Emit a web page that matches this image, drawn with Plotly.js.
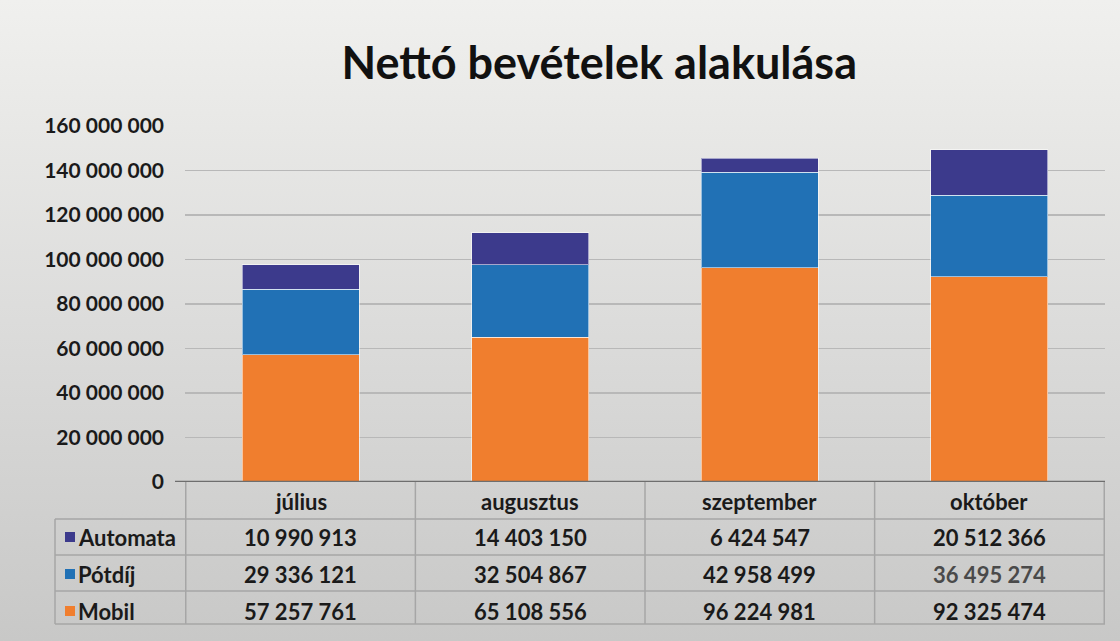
<!DOCTYPE html>
<html>
<head>
<meta charset="utf-8">
<script src="https://cdn.plot.ly/plotly-3.0.1.min.js"></script>
<style>
html,body{margin:0;padding:0;}
body{width:1120px;height:641px;background:linear-gradient(to bottom,#f0f0ee 0%,#e8e8e6 20%,#dcdcdb 50%,#d0d0cf 80%,#c8c8c7 100%);}
#chart{width:1120px;height:641px;}
</style>
</head>
<body>
<div id="chart"></div>
<script>
const categories = ['július', 'augusztus', 'szeptember', 'október'];
const seriesNames = ['Automata', 'Pótdíj', 'Mobil'];
const automata = [10990913, 14403150, 6424547, 20512366];
const potdij = [29336121, 32504867, 42958499, 36495274];
const mobil = [57257761, 65108556, 96224981, 92325474];
const yTickVals = [0, 20000000, 40000000, 60000000, 80000000, 100000000, 120000000, 140000000, 160000000];

const colors = {Automata: '#3c3a8c', 'Pótdíj': '#2171b5', Mobil: '#f07e2e'};
const fmt = n => String(n).replace(/\B(?=(\d{3})+(?!\d))/g, ' ');
const FONT = 'Lato, "Open Sans", sans-serif';

const seriesData = {Automata: automata, 'Pótdíj': potdij, Mobil: mobil};
const stackOrder = ['Mobil', 'Pótdíj', 'Automata'];
const traces = stackOrder.map(name => ({
  type: 'bar', name: name, x: categories, y: seriesData[name],
  marker: {color: colors[name], line: {color: 'rgba(255,255,255,0.55)', width: 1}},
  showlegend: false, hoverinfo: 'x+y+name'
}));

const plotTop = 126, plotBottom = 482, plotH = plotBottom - plotTop;
const py = p => (plotBottom - p) / plotH;
const plotLeft = 185, plotW = 920;
const px = p => (p - plotLeft) / plotW;

const annotations = [];
const shapes = [];
const rowCenters = {header: 501, Automata: 537, 'Pótdíj': 574, Mobil: 611};
const rowLines = [519, 555, 591, 624];
const TS = 22;

categories.forEach((c, i) => {
  annotations.push({xref: 'x', yref: 'paper', x: c, y: py(rowCenters.header), text: c, showarrow: false,
    font: {family: FONT, size: TS, color: '#1a1a1a', weight: 'bold'}, xanchor: 'center', yanchor: 'middle'});
});
seriesNames.forEach(name => {
  seriesData[name].forEach((v, i) => {
    annotations.push({xref: 'x', yref: 'paper', x: categories[i], y: py(rowCenters[name]), text: fmt(v), showarrow: false,
      font: {family: FONT, size: TS, color: (name === 'Pótdíj' && i === 3) ? '#4a4a4a' : '#1a1a1a', weight: 'bold'},
      xanchor: 'center', yanchor: 'middle'});
  });
  annotations.push({xref: 'paper', yref: 'paper', x: px(76), y: py(rowCenters[name]), text: name, showarrow: false,
    font: {family: FONT, size: TS, color: '#1a1a1a', weight: 'bold'}, xanchor: 'left', yanchor: 'middle'});
  shapes.push({type: 'rect', xref: 'paper', yref: 'paper', x0: px(65), x1: px(75),
    y0: py(rowCenters[name] + 5), y1: py(rowCenters[name] - 5), fillcolor: colors[name], line: {width: 0}});
});

const lineCol = '#a6a6a6';
rowLines.forEach(yp => {
  shapes.push({type: 'line', xref: 'paper', yref: 'paper', x0: px(55), x1: px(1105), y0: py(yp), y1: py(yp), line: {color: lineCol, width: 1.5}});
});
[-0.5, 0.5, 1.5, 2.5, 3.5].forEach(xb => {
  shapes.push({type: 'line', xref: 'x', yref: 'paper', x0: xb, x1: xb, y0: py(plotBottom), y1: py(624), line: {color: lineCol, width: 1.5}});
});
shapes.push({type: 'line', xref: 'paper', yref: 'paper', x0: px(55), x1: px(55), y0: py(519), y1: py(624), line: {color: lineCol, width: 1.5}});
shapes.push({type: 'line', xref: 'paper', yref: 'y', x0: px(175), x1: px(1105), y0: 0, y1: 0, line: {color: '#6e6e6e', width: 2.5}});

const layout = {
  width: 1120, height: 641,
  margin: {l: plotLeft, r: 1120 - plotLeft - plotW, t: plotTop, b: 641 - plotBottom, pad: 0},
  paper_bgcolor: 'rgba(0,0,0,0)', plot_bgcolor: 'rgba(0,0,0,0)',
  barmode: 'stack', bargap: 0.49,
  title: {text: 'Nettó bevételek alakulása', x: 0.535, xanchor: 'center', y: 0.902, yanchor: 'middle',
    font: {family: FONT, size: 45, color: '#111', weight: 'bold'}},
  xaxis: {type: 'category', showticklabels: false, showgrid: false, zeroline: false, showline: false, ticks: ''},
  yaxis: {range: [0, 160000000], tickvals: yTickVals, ticktext: yTickVals.map(fmt), ticks: '',
    showgrid: true, gridcolor: '#b8b8b8', gridwidth: 1.2, zeroline: false, showline: false,
    ticklabelstandoff: 20, tickfont: {family: FONT, size: 21, color: '#1a1a1a', weight: 'bold'}},
  annotations: annotations, shapes: shapes, font: {family: FONT}
};

Plotly.newPlot('chart', traces, layout, {displayModeBar: false, staticPlot: true});
</script>
</body>
</html>
